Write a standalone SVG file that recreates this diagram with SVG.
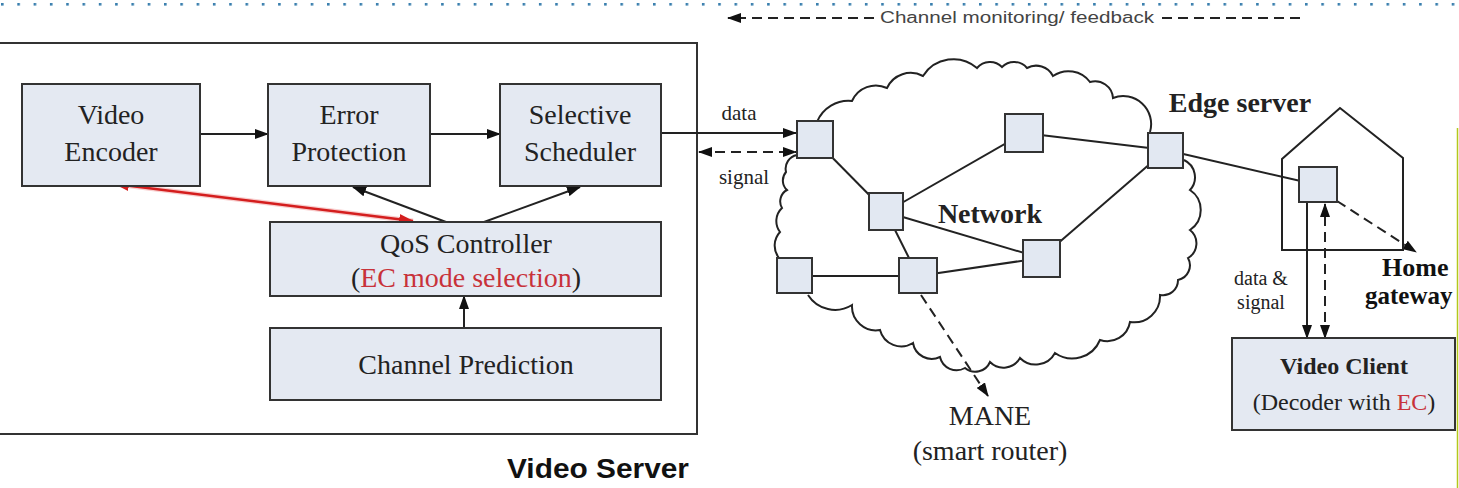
<svg xmlns="http://www.w3.org/2000/svg" width="1459" height="488" viewBox="0 0 1459 488">
<style>
.box{fill:#e4e9f2;stroke:#333;stroke-width:2}
.node{fill:#e2e8f2;stroke:#333;stroke-width:2}
.ln{stroke:#222;stroke-width:2;fill:none}
.dash{stroke:#222;stroke-width:2;fill:none;stroke-dasharray:10 6}
.t{font-family:"Liberation Serif","Times New Roman",serif;fill:#222;text-anchor:middle}
.ts{font-family:"Liberation Serif","Times New Roman",serif;fill:#111;text-anchor:start}
.b{font-weight:bold}
.red{fill:#c8323a}
</style>
<defs>
<marker id="ah" viewBox="0 0 14 10" refX="13" refY="5" markerWidth="14" markerHeight="10" markerUnits="userSpaceOnUse" orient="auto-start-reverse"><path d="M0,0 L14,5 L0,10 Z" fill="#111"/></marker>
<marker id="ahr" viewBox="0 0 14 10" refX="13" refY="5" markerWidth="15" markerHeight="11" markerUnits="userSpaceOnUse" orient="auto-start-reverse"><path d="M0,0 L14,5 L0,10 Z" fill="#d41e1e"/></marker>
<pattern id="dots" x="1" y="3" width="16.3" height="4" patternUnits="userSpaceOnUse"><rect width="2.6" height="2.6" fill="#3a7fae"/></pattern>
</defs>
<rect width="1459" height="488" fill="#fff"/>
<rect x="0" y="3" width="1459" height="3" fill="url(#dots)"/>

<g id="feedback">
<line x1="1300" y1="18" x2="1160" y2="18" class="dash" stroke-dasharray="12 7"/>
<line x1="874" y1="18" x2="728" y2="18" class="dash" stroke-dasharray="12 7" marker-end="url(#ah)"/>
<text x="880" y="23" font-family="Liberation Sans, Arial, sans-serif" font-size="16" fill="#444" textLength="274" lengthAdjust="spacingAndGlyphs">Channel monitoring/ feedback</text>
</g>

<g id="video-server">
<rect x="-2" y="43" width="699" height="391" fill="none" stroke="#333" stroke-width="2"/>
<text x="598" y="478" font-family="Liberation Sans, Arial, sans-serif" font-weight="bold" font-size="27" fill="#111" text-anchor="middle" textLength="182" lengthAdjust="spacingAndGlyphs">Video Server</text>
</g>

<g id="connectors">
<line x1="200" y1="134" x2="268" y2="134" class="ln" marker-end="url(#ah)"/>
<line x1="430" y1="134" x2="500" y2="134" class="ln" marker-end="url(#ah)"/>
<line x1="446" y1="222" x2="353" y2="187" class="ln" marker-end="url(#ah)"/>
<line x1="484" y1="222" x2="580" y2="187" class="ln" marker-end="url(#ah)"/>
<line x1="464" y1="328" x2="464" y2="296" class="ln" marker-end="url(#ah)"/>
<line x1="115" y1="184" x2="413" y2="221" stroke="#f4b0b0" stroke-width="5" opacity="0.6"/>
<line x1="115" y1="184" x2="413" y2="221" stroke="#d41e1e" stroke-width="2.5" marker-start="url(#ahr)" marker-end="url(#ahr)"/>
<line x1="661" y1="133" x2="796" y2="133" class="ln" marker-end="url(#ah)"/>
<line x1="699" y1="152" x2="796" y2="152" class="dash" marker-start="url(#ah)" marker-end="url(#ah)"/>
<path id="cloud" class="ln" d="M817,122 A34,34 0 0 1 852,101 A26,26 0 0 1 887,88 A26,26 0 0 1 923,76 A36,36 0 0 1 977,68 A17,17 0 0 1 1002,67 A17,17 0 0 1 1027,68 A19,19 0 0 1 1053,76 A27,27 0 0 1 1090,82 A18,18 0 0 1 1113,98 A28,28 0 0 1 1150,132 M1184,160 A19,19 0 0 1 1190,190 A24,24 0 0 1 1190,230 A17,17 0 0 1 1188,258 A15,15 0 0 1 1178,280 A15,15 0 0 1 1160,295 A26,26 0 0 1 1130,322 A23,23 0 0 1 1100,340 A30,30 0 0 1 1055,353 A22,22 0 0 1 1020,358 A19,19 0 0 1 990,362 A16,16 0 0 1 965,368 A17,17 0 0 1 940,357 A19,19 0 0 1 913,343 A22,22 0 0 1 880,330 A24,24 0 0 1 852,305 A32,32 0 0 1 808,295 M779,258 A20,20 0 0 1 780,232 A18,18 0 0 1 782,208 A13,13 0 0 1 787,190 A13,13 0 0 1 786,172 A14,14 0 0 1 797,155"/>
<line x1="815" y1="140" x2="886" y2="212" class="ln"/>
<line x1="886" y1="212" x2="1024" y2="133" class="ln"/>
<line x1="1024" y1="133" x2="1166" y2="150" class="ln"/>
<line x1="886" y1="212" x2="1041" y2="258" class="ln"/>
<line x1="886" y1="212" x2="918" y2="276" class="ln"/>
<line x1="795" y1="276" x2="918" y2="276" class="ln"/>
<line x1="918" y1="276" x2="1041" y2="258" class="ln"/>
<line x1="1041" y1="258" x2="1166" y2="150" class="ln"/>
<line x1="1166" y1="150" x2="1318" y2="185" class="ln"/>
<line x1="921" y1="295" x2="988" y2="396" class="dash" marker-end="url(#ah)"/>
<line x1="1307" y1="202" x2="1307" y2="338" class="ln" marker-end="url(#ah)"/>
<line x1="1325" y1="338" x2="1325" y2="204" class="dash" stroke-dasharray="9 6" marker-start="url(#ah)" marker-end="url(#ah)"/>
<line x1="1337" y1="201" x2="1416" y2="252" class="dash" marker-end="url(#ah)"/>
</g>

<g id="video-encoder"><rect x="22" y="84" width="178" height="102" class="box"/>
<text class="t" x="111" y="124" font-size="28">Video</text><text class="t" x="111" y="161" font-size="28">Encoder</text></g>
<g id="error-protection"><rect x="268" y="84" width="162" height="102" class="box"/>
<text class="t" x="349" y="124" font-size="28">Error</text><text class="t" x="349" y="161" font-size="28">Protection</text></g>
<g id="selective-scheduler"><rect x="500" y="84" width="161" height="102" class="box"/>
<text class="t" x="580" y="124" font-size="28">Selective</text><text class="t" x="580" y="161" font-size="28">Scheduler</text></g>
<g id="qos-controller"><rect x="270" y="222" width="391" height="74" class="box"/>
<text class="t" x="466" y="253" font-size="28">QoS Controller</text>
<text class="t" x="466" y="287" font-size="28">(<tspan class="red">EC mode selection</tspan>)</text></g>
<g id="channel-prediction"><rect x="270" y="328" width="391" height="72" class="box"/>
<text class="t" x="466" y="374" font-size="28">Channel Prediction</text></g>

<g id="network">
<text class="t" x="739" y="120" font-size="21" fill="#333">data</text>
<text class="t" x="744" y="184" font-size="21" fill="#333">signal</text>
<text class="t b" x="990" y="223" font-size="28">Network</text>
</g>
<g id="n1"><rect x="797" y="121" width="36" height="37" class="node"/></g>
<g id="n2"><rect x="1005" y="114" width="38" height="38" class="node"/></g>
<g id="n3"><rect x="869" y="193" width="34" height="37" class="node"/></g>
<g id="n4"><rect x="1023" y="240" width="37" height="37" class="node"/></g>
<g id="n5"><rect x="777" y="258" width="35" height="35" class="node"/></g>
<g id="n6"><rect x="899" y="258" width="38" height="35" class="node"/></g>
<g id="edge-server"><rect x="1148" y="133" width="35" height="35" class="node"/>
<text class="t b" x="1240" y="112" font-size="28">Edge server</text></g>

<g id="mane"><text class="t" x="990" y="425" font-size="28">MANE</text>
<text class="t" x="990" y="460" font-size="28">(smart router)</text></g>

<g id="home-gateway">
<path d="M1282,250 L1282,159 L1340,108 L1403,158 L1403,250 Z" class="ln"/>
<rect x="1299" y="167" width="38" height="35" class="node"/>
<text class="ts b" x="1382" y="276" font-size="26">Home</text>
<text class="ts b" x="1365" y="304" font-size="25">gateway</text>
<text class="t" x="1261" y="285" font-size="20" fill="#333">data &amp;</text>
<text class="t" x="1261" y="309" font-size="20" fill="#333">signal</text>
</g>

<g id="video-client"><rect x="1232" y="338" width="223" height="92" class="box"/>
<text class="t b" x="1344" y="374" font-size="24">Video Client</text>
<text class="t" x="1344" y="410" font-size="24">(Decoder with <tspan class="red">EC</tspan>)</text></g>

<line x1="1457.5" y1="128" x2="1457.5" y2="488" stroke="#b4c81c" stroke-width="1.5"/>
</svg>
